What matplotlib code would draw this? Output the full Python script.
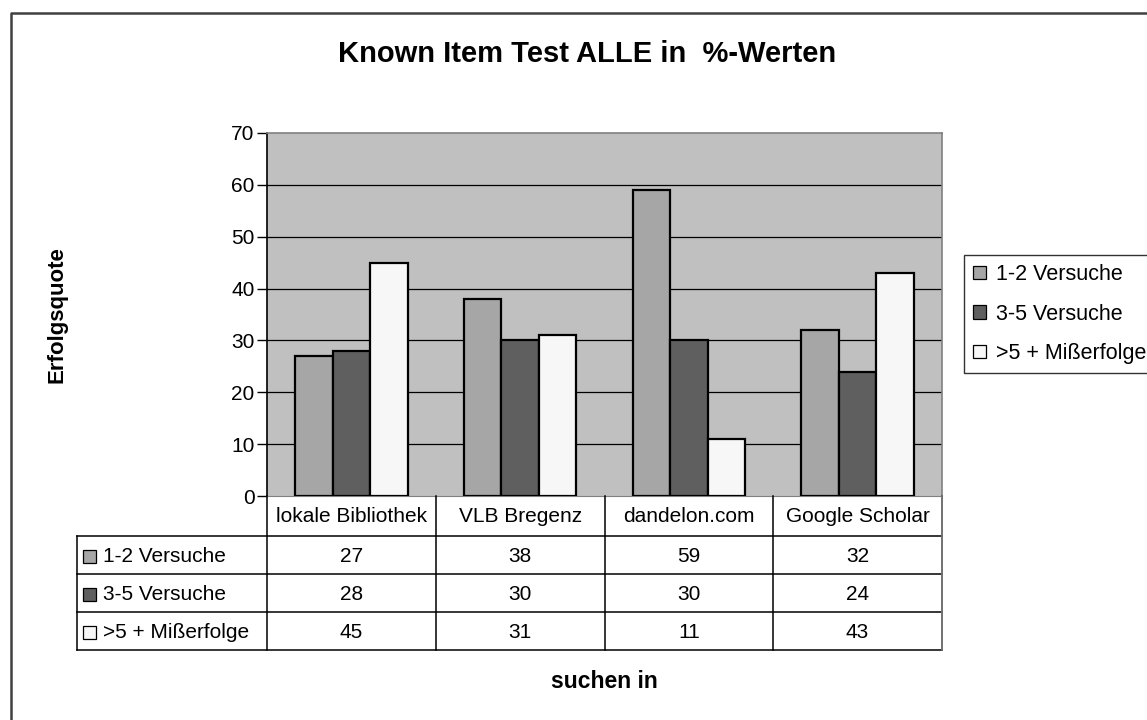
import matplotlib.pyplot as plt
import numpy as np
from matplotlib.patches import Patch, Rectangle

plt.rcParams['font.family'] = ['Liberation Sans', 'DejaVu Sans']

categories = ['lokale Bibliothek', 'VLB Bregenz', 'dandelon.com', 'Google Scholar']
series_names = ['1-2 Versuche', '3-5 Versuche', '>5 + Mißerfolge']
v_12 = [27, 38, 59, 32]
v_35 = [28, 30, 30, 24]
v_5m = [45, 31, 11, 43]
series = [v_12, v_35, v_5m]
colors = ['#a6a6a6', '#5f5f5f', '#f7f7f7']
yticks = [0, 10, 20, 30, 40, 50, 60, 70]

W, H = 1147, 720
fig = plt.figure(figsize=(W / 100, H / 100), dpi=100)

# plot area in pixels
px0, px1, py0, py1 = 267, 942, 133, 496
ax = fig.add_axes([px0 / W, 1 - py1 / H, (px1 - px0) / W, (py1 - py0) / H])
ax.set_facecolor('#c0c0c0')
ax.set_xlim(-0.5, len(categories) - 0.5)
ax.set_ylim(0, 70)

w = 1 / 4.5
x = np.arange(len(categories))
for j, vals in enumerate(series):
    ax.bar(x + (j - 1) * w, vals, width=w, color=colors[j], edgecolor='black',
           linewidth=1.6, zorder=3, label=series_names[j])

for yv in yticks[1:-1]:
    ax.axhline(yv, color='black', linewidth=0.9, zorder=1)

ax.set_yticks(yticks)
ax.tick_params(axis='y', direction='out', length=7, width=1, labelsize=15, pad=2)
ax.set_xticks([])
for s in ['top', 'right']:
    ax.spines[s].set_color('#808080')
    ax.spines[s].set_linewidth(1.2)
ax.spines['bottom'].set_color('#808080')
ax.spines['left'].set_color('black')
ax.spines['left'].set_linewidth(1.2)

# overlay in pixel coordinates for table, frame and labels
ov = fig.add_axes([0, 0, 1, 1], facecolor='none')
ov.set_xlim(0, W)
ov.set_ylim(H, 0)
ov.axis('off')

# outer frame
ov.plot([11, 11, W + 5], [H + 5, 13, 13], color='#404040', linewidth=1.8)

# data table
colw = (px1 - px0) / len(categories)
rows_y = [496, 536, 574, 612, 650]
lx = 77
lk = dict(color='black', linewidth=1.1)
for i in range(len(categories) + 1):
    ov.plot([px0 + i * colw] * 2, [rows_y[0], rows_y[-1]], **lk)
ov.plot([lx, lx], [rows_y[1], rows_y[-1]], **lk)
for k, yy in enumerate(rows_y):
    if k == 0:
        continue
    ov.plot([lx, px1], [yy, yy], **lk)
ov.plot([px1, px1], [rows_y[0], rows_y[-1]], color='#808080', linewidth=1.2)

tfs = 15
for i, cat in enumerate(categories):
    ov.text(px0 + (i + 0.5) * colw, (rows_y[0] + rows_y[1]) / 2 + 1, cat,
            ha='center', va='center', fontsize=tfs)
for r, vals in enumerate(series):
    yc = (rows_y[r + 1] + rows_y[r + 2]) / 2 + 1
    ov.add_patch(Rectangle((83, yc - 6), 13, 13, facecolor=colors[r],
                           edgecolor='black', linewidth=0.9))
    ov.text(103, yc, series_names[r], ha='left', va='center', fontsize=tfs)
    for i, v in enumerate(vals):
        ov.text(px0 + (i + 0.5) * colw, yc, str(v), ha='center', va='center', fontsize=tfs)

# titles and axis labels
ov.text(587, 54, 'Known Item Test ALLE in  %-Werten', ha='center', va='center',
        fontsize=21, fontweight='bold')
ov.text(57, 315, 'Erfolgsquote', ha='center', va='center', rotation=90,
        fontsize=16, fontweight='bold')
ov.text(604, 682, 'suchen in', ha='center', va='center', fontsize=16.5, fontweight='bold')

# legend
handles = [Patch(facecolor=colors[j], edgecolor='black', linewidth=0.9, label=series_names[j])
           for j in range(3)]
leg = fig.legend(handles=handles, loc='upper left', bbox_to_anchor=(964 / W, 1 - 255 / H),
                 fontsize=15.5, frameon=True, fancybox=False, borderaxespad=0,
                 handlelength=0.6, handleheight=0.6, handletextpad=0.45,
                 labelspacing=0.86, borderpad=0.42)
leg.get_frame().set_edgecolor('black')
leg.get_frame().set_linewidth(1.0)

fig.savefig('out.png', dpi=100)
